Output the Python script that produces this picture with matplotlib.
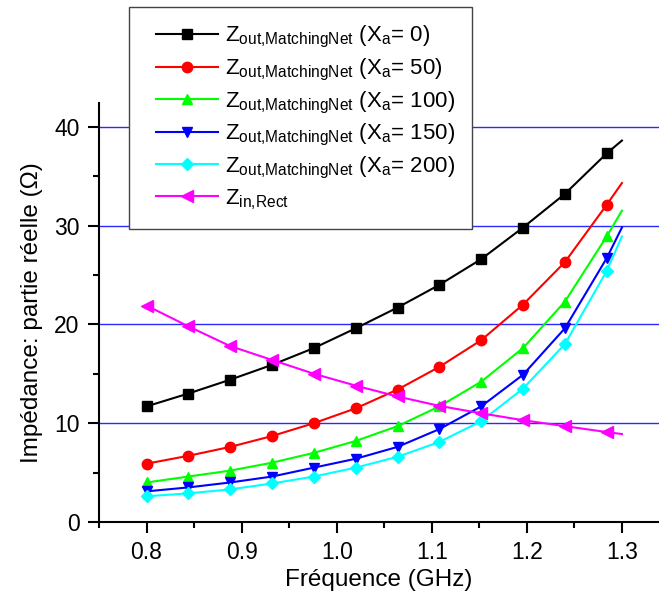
import matplotlib
matplotlib.use('Agg')
import matplotlib.pyplot as plt
from matplotlib.legend_handler import HandlerLine2D

# Data
freq = [0.8, 0.844, 0.888, 0.932, 0.976, 1.02, 1.064, 1.108, 1.152, 1.196, 1.24, 1.284, 1.3]
z_xa0 = [11.7, 13.0, 14.4, 15.9, 17.6, 19.6, 21.7, 24.0, 26.6, 29.8, 33.2, 37.3, 38.6]
z_xa50 = [5.9, 6.7, 7.6, 8.7, 10.0, 11.5, 13.4, 15.7, 18.4, 22.0, 26.3, 32.1, 34.3]
z_xa100 = [4.0, 4.6, 5.2, 6.0, 7.0, 8.2, 9.7, 11.7, 14.2, 17.6, 22.3, 28.9, 31.5]
z_xa150 = [3.1, 3.5, 4.0, 4.6, 5.5, 6.4, 7.6, 9.4, 11.7, 14.9, 19.6, 26.7, 29.8]
z_xa200 = [2.6, 2.9, 3.3, 3.9, 4.6, 5.5, 6.6, 8.1, 10.2, 13.5, 18.0, 25.4, 28.9]
z_rect = [21.9, 19.8, 17.8, 16.4, 15.0, 13.8, 12.7, 11.75, 11.0, 10.3, 9.7, 9.1, 8.9]

xa_values = [0, 50, 100, 150, 200]
labels = [r'Z$_\mathregular{out{,}MatchingNet}$ (X$_\mathregular{a}$= %d)' % v for v in xa_values]
labels.append(r'Z$_\mathregular{in{,}Rect}$')

plt.rcParams['font.family'] = ['Liberation Sans', 'DejaVu Sans']
plt.rcParams['mathtext.fontset'] = 'custom'
plt.rcParams['mathtext.rm'] = 'Liberation Sans'

# Layout
fig = plt.figure(figsize=(6.59, 5.98), dpi=100)
ax = fig.add_axes([99/659, 76/598, 560/659, 419/598])

# Plot
series = [z_xa0, z_xa50, z_xa100, z_xa150, z_xa200, z_rect]
colors = ['black', '#ff0000', '#00ff00', '#0000ff', '#00ffff', '#ff00ff']
markers = ['s', 'o', '^', 'v', 'D', '<']
sizes = [6.5, 7.5, 7.5, 7.5, 6.5, 8]
handles = []
for y, c, m, s, lab in zip(series, colors, markers, sizes, labels):
    h, = ax.plot(freq, y, color=c, marker=m, markersize=s, lw=1.5,
                 markevery=list(range(12)), label=lab, zorder=3)
    handles.append(h)

# Details
ax.set_xlim(0.75, 1.339)
ax.set_ylim(0, 42.4)
ax.set_xticks([0.8, 0.9, 1.0, 1.1, 1.2, 1.3])
ax.set_xticks([0.75, 0.85, 0.95, 1.05, 1.15, 1.25], minor=True)
ax.set_yticks([0, 10, 20, 30, 40])
ax.set_yticks([5, 15, 25, 35], minor=True)
ax.yaxis.grid(True, which='major', color='#2a2aff', lw=1.0, zorder=1)
ax.set_axisbelow(True)

for side in ['top', 'right']:
    ax.spines[side].set_visible(False)
for side in ['left', 'bottom']:
    ax.spines[side].set_linewidth(1.5)
ax.tick_params(which='major', direction='out', length=8, width=1.5, labelsize=16.5, pad=6)
ax.tick_params(which='minor', direction='out', length=4, width=1.5)

ax.set_xlabel('Fréquence (GHz)', fontsize=17.5, labelpad=3)
ax.set_ylabel('Impédance: partie réelle (Ω)', fontsize=17.5, labelpad=8)

# legend sits partly above the axes; handles are indented a bit from the frame
handler = {h: HandlerLine2D(xpad=0.43) for h in handles}
fig.legend(handles, labels, loc='upper left', bbox_to_anchor=(129/659, 1 - 7/598),
           borderaxespad=0, fontsize=16, frameon=True, fancybox=False, framealpha=1,
           edgecolor='#444444', handlelength=3.23, labelspacing=0.29,
           borderpad=0.78, handletextpad=0.3, handler_map=handler)

# Output
fig.savefig('out.png', dpi=100)
